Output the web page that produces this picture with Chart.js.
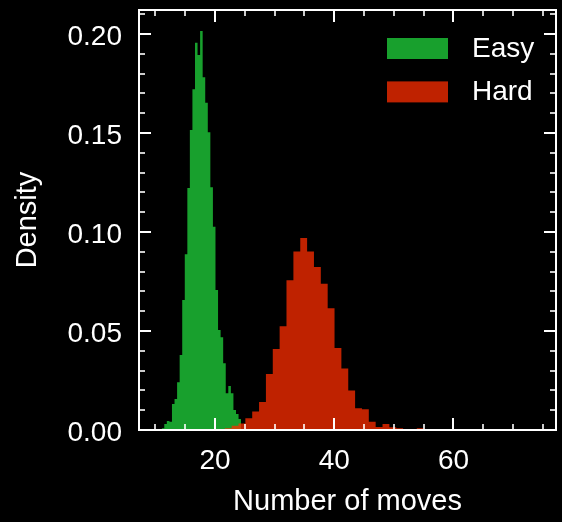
<!DOCTYPE html>
<html><head><meta charset="utf-8">
<script src="https://cdn.jsdelivr.net/npm/chart.js@4.4.0/dist/chart.umd.min.js"></script>
<style>html,body{margin:0;padding:0;background:#000;}#wrap{width:562px;height:522px;}</style>
</head><body><div id="wrap"><canvas id="c" width="562" height="522"></canvas></div>
<script>
// Bin edges (left edges + final right edge) and density heights
const easyEdges = [11.06,11.49,11.92,12.35,12.78,13.21,13.64,14.07,14.50,14.93,15.36,15.78,16.21,16.64,17.07,17.50,17.93,18.36,18.79,19.22,19.65,20.08,20.51,20.94,21.37,21.80,22.23,22.66,23.09,23.52,23.95,24.37];
const easyDensity = [0.0009,0.0030,0.0045,0.0042,0.0131,0.0157,0.0241,0.0379,0.0657,0.0887,0.1222,0.1515,0.1721,0.1956,0.1894,0.2015,0.1781,0.1652,0.1504,0.1226,0.1027,0.0707,0.0505,0.0468,0.0337,0.0185,0.0222,0.0185,0.0101,0.0081,0.0056];
const hardEdges = [20.49,21.64,22.79,23.94,25.09,26.24,27.39,28.54,29.69,30.84,31.99,33.15,34.30,35.45,36.60,37.75,38.90,40.05,41.20,42.35,43.50,44.65,45.80,46.95,48.10,49.25,50.40,51.55,52.70,53.85,55.00];
const hardDensity = [0.0005,0.0009,0.0022,0.0033,0.0059,0.0094,0.0141,0.0283,0.0409,0.0524,0.0756,0.0902,0.0970,0.0902,0.0823,0.0739,0.0615,0.0414,0.0310,0.0199,0.0110,0.0105,0.0042,0.0015,0.0030,0.0014,0.0009,0,0,0.0009];
const seriesLabels = ['Easy','Hard'];
const xMajorTicks = [20,40,60];
const xMinorTicks = [10,15,25,30,35,45,50,55,65,70,75];
const yMajorTicks = [0,0.05,0.10,0.15,0.20];
const yMinorTicks = [0.01,0.02,0.03,0.04,0.06,0.07,0.08,0.09,0.11,0.12,0.13,0.14,0.16,0.17,0.18,0.19,0.21];

const FONT = '"Liberation Sans", Arial, Helvetica, sans-serif';
const GREEN = '#18a02d';
const RED = 'rgba(255,45,0,0.75)';

function steps(edges, dens){
  return edges.map((e,i)=>({x:e, y: i < dens.length ? dens[i] : 0}));
}

const framePlugin = {
  id:'frame',
  afterDraw(chart){
    const {ctx, chartArea:a, scales:{x, y}} = chart;
    ctx.save();
    ctx.strokeStyle = '#fff';
    const seg = (x1,y1,x2,y2,w)=>{ctx.lineWidth=w;ctx.beginPath();ctx.moveTo(x1,y1);ctx.lineTo(x2,y2);ctx.stroke();};
    xMajorTicks.forEach(v=>{const p=Math.round(x.getPixelForValue(v)); seg(p,a.bottom,p,a.bottom-12,2); seg(p,a.top,p,a.top+12,2);});
    xMinorTicks.forEach(v=>{const p=Math.round(x.getPixelForValue(v)); seg(p,a.bottom,p,a.bottom-6,1.6); seg(p,a.top,p,a.top+6,1.6);});
    yMajorTicks.forEach(v=>{const p=Math.round(y.getPixelForValue(v)); seg(a.left,p,a.left+12,p,2); seg(a.right,p,a.right-12,p,2);});
    yMinorTicks.forEach(v=>{const p=Math.round(y.getPixelForValue(v)); seg(a.left,p,a.left+6,p,1.6); seg(a.right,p,a.right-6,p,1.6);});
    ctx.lineWidth = 2;
    ctx.strokeRect(a.left, a.top, a.right-a.left, a.bottom-a.top);
    ctx.restore();
  }
};

const legendPlugin = {
  id:'boxlegend',
  afterDraw(chart){
    const ctx = chart.ctx;
    ctx.save();
    ctx.font = '28px ' + FONT;
    ctx.textBaseline = 'middle';
    ctx.textAlign = 'left';
    chart.data.datasets.forEach((ds,i)=>{
      const top = 38 + i*43.4;
      ctx.fillStyle = ds.backgroundColor;
      ctx.fillRect(387, top, 61, 21);
      ctx.fillStyle = '#fff';
      ctx.fillText(ds.label, 472, top + 11);
    });
    ctx.restore();
  }
};

new Chart(document.getElementById('c'), {
  type:'line',
  data:{datasets:[
    {label:seriesLabels[0], data:steps(easyEdges, easyDensity), stepped:'before', fill:'origin', backgroundColor:GREEN, borderColor:GREEN, borderWidth:0, pointRadius:0, order:2},
    {label:seriesLabels[1], data:steps(hardEdges, hardDensity), stepped:'before', fill:'origin', backgroundColor:RED, borderColor:RED, borderWidth:0, pointRadius:0, order:1}
  ]},
  options:{
    responsive:false, animation:false,
    layout:{padding:{left:0,right:6,top:10,bottom:0}},
    plugins:{legend:{display:false}, tooltip:{enabled:false}},
    scales:{
      x:{type:'linear', min:7.25, max:77.2,
        afterBuildTicks:s=>{s.ticks = xMajorTicks.map(v=>({value:v}));},
        afterFit:s=>{s.height = 92;},
        grid:{display:false, drawTicks:false}, border:{display:false},
        ticks:{color:'#fff', font:{family:FONT, size:28}, padding:14, maxRotation:0, autoSkip:false, callback:v=>String(v)},
        title:{display:true, text:'Number of moves', color:'#fff', font:{family:FONT, size:29}, padding:{top:0,bottom:3}}
      },
      y:{type:'linear', min:0, max:0.2121,
        afterBuildTicks:s=>{s.ticks = yMajorTicks.map(v=>({value:v}));},
        afterFit:s=>{s.width = 139; s.paddingTop = 0; s.paddingBottom = 0;},
        grid:{display:false, drawTicks:false}, border:{display:false},
        ticks:{color:'#fff', font:{family:FONT, size:28}, padding:17, labelOffset:3, autoSkip:false, callback:v=>Number(v).toFixed(2)},
        title:{display:true, text:'Density', color:'#fff', font:{family:FONT, size:29}, padding:{top:11,bottom:0}}
      }
    }
  },
  plugins:[framePlugin, legendPlugin]
});
</script></body></html>
